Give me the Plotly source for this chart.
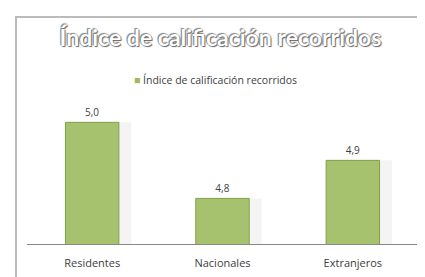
import plotly.graph_objects as go

categories = ["Residentes", "Nacionales", "Extranjeros"]
values = [5.0, 4.8, 4.9]
series_name = "Índice de calificación recorridos"
title_text = "Índice de calificación recorridos"

W, H = 425, 277
L, R, T, B = 19, 15, 90, 41
PW, PH = W - L - R, H - T - B

fig = go.Figure()
# soft shadow to the right of each bar
fig.add_trace(go.Bar(
    x=categories, y=values, offset=-0.15, width=0.45,
    marker=dict(color="rgba(0,0,0,0.045)", line=dict(width=0)),
    hoverinfo="skip", showlegend=False,
))
fig.add_trace(go.Bar(
    x=categories, y=values, name=series_name, offset=-0.205, width=0.41,
    marker=dict(color="#a6c26e", line=dict(color="#80a047", width=1)),
    texttemplate="%{y:.1f}", textposition="outside",
    textfont=dict(family="Open Sans, sans-serif", size=10, color="#404040"),
    cliponaxis=False,
    showlegend=False,
))

fig.update_layout(
    width=W, height=H,
    margin=dict(l=L, r=R, t=T, b=B, autoexpand=False),
    paper_bgcolor="white", plot_bgcolor="white",
    separators=",.",
    barmode="overlay",
    title=dict(
        text=title_text, x=0.5, xanchor="center", y=1 - 30 / H, yanchor="middle",
        font=dict(family="Lato, Open Sans, sans-serif", size=23, color="white",
                  weight="bold",
                  shadow="0px 0px 1px #555, 1px 1px 1px #666, -1px -1px 1px #888"),
    ),
    annotations=[dict(
        xref="paper", yref="paper", x=(124 - L) / PW, xanchor="left",
        y=1 + (T - 72) / PH, yanchor="middle", showarrow=False,
        text="<span style='color:#9bbb59'>■</span> " + series_name,
        font=dict(family="Open Sans, sans-serif", size=10.5, color="#404040"),
    )],
    xaxis=dict(
        showline=True, linecolor="#888", linewidth=1, ticks="",
        tickfont=dict(family="Open Sans, sans-serif", size=11, color="#404040"),
        ticklabelstandoff=9,
        showgrid=False,
    ),
    yaxis=dict(range=[4.68, 5.064], visible=False, showgrid=False),
    shapes=[dict(
        type="rect", xref="paper", yref="paper",
        x0=(8 - L) / PW, x1=(422 - L) / PW,
        y0=-(B + 20) / PH, y1=1 + (T - 9) / PH,
        line=dict(color="#bbbbbb", width=2), fillcolor="rgba(0,0,0,0)", layer="below",
    )],
)

fig.write_html("out.html")
